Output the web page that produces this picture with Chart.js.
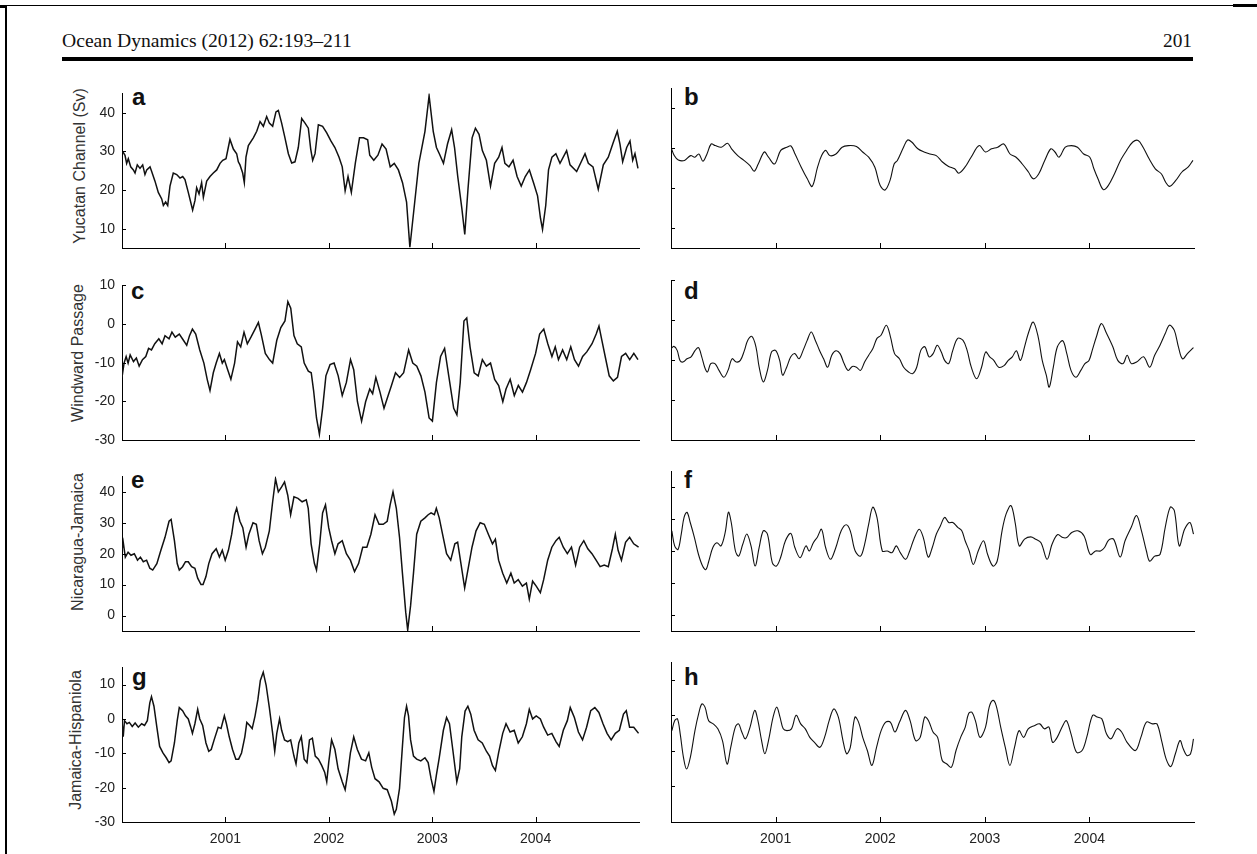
<!DOCTYPE html>
<html><head><meta charset="utf-8">
<script src="https://cdn.jsdelivr.net/npm/chart.js@4.4.0/dist/chart.umd.min.js"></script>
<style>
body{margin:0;width:1257px;height:854px;background:#fff;position:relative;overflow:hidden;font-family:'Liberation Sans',Arial,sans-serif}
.abs{position:absolute}
.blk{position:absolute;background:#000}
.ylab{position:absolute;transform:translate(-50%,-50%) rotate(-90deg);white-space:nowrap;font-size:16px;color:#333;line-height:16px}
.pl{position:absolute;font-weight:bold;font-size:24px;line-height:24px;color:#111}
.hdr{position:absolute;font-family:'Liberation Serif','Times New Roman',serif;font-size:18px;line-height:18px;color:#111;white-space:nowrap}
</style></head><body>
<div class="blk" style="left:5px;top:5px;width:1252px;height:1px"></div>
<div class="blk" style="left:0;top:5px;width:7px;height:3px"></div>
<div class="blk" style="left:1233px;top:4px;width:24px;height:3px"></div>
<div class="blk" style="left:5px;top:5px;width:2px;height:849px"></div>
<div id="hdr" class="hdr" style="left:62px;top:32px;transform-origin:0 0">Ocean Dynamics (2012) 62:193–211</div>
<div id="pg" class="hdr" style="left:1163px;top:32px;transform-origin:0 0">201</div>
<div class="blk" style="left:62px;top:57px;width:1131px;height:4px"></div>

<div class="ylab" style="left:80px;top:166px">Yucatan Channel (Sv)</div>
<div class="ylab" style="left:78px;top:353px">Windward Passage</div>
<div class="ylab" style="left:78px;top:542px">Nicaragua-Jamaica</div>
<div class="ylab" style="left:76px;top:740px">Jamaica-Hispaniola</div>

<div class="pl" style="left:132px;top:85px">a</div>
<div class="pl" style="left:684px;top:85px">b</div>
<div class="pl" style="left:131px;top:279px">c</div>
<div class="pl" style="left:684px;top:279px">d</div>
<div class="pl" style="left:131px;top:468px">e</div>
<div class="pl" style="left:684px;top:468px">f</div>
<div class="pl" style="left:132px;top:665px">g</div>
<div class="pl" style="left:684px;top:665px">h</div>

<script>
// ---- tick values ----
const xTicks = [2001, 2002, 2003, 2004];
const yTicksYucatan = [10, 20, 30, 40];
const yTicksWindward = [-30, -20, -10, 0, 10];
const yTicksNicJam = [0, 10, 20, 30, 40];
const yTicksJamHisp = [-30, -20, -10, 0, 10];

// ---- (a) Yucatan Channel, full ----
const aYears = [2000.006,2000.029,2000.045,2000.061,2000.084,2000.110,2000.126,2000.148,2000.174,2000.200,2000.222,2000.239,2000.271,2000.287,2000.319,2000.351,2000.384,2000.400,2000.422,2000.442,2000.464,2000.496,2000.529,2000.561,2000.587,2000.609,2000.641,2000.664,2000.683,2000.706,2000.722,2000.745,2000.770,2000.787,2000.819,2000.851,2000.883,2000.916,2000.948,2000.974,2001.006,2001.028,2001.044,2001.077,2001.109,2001.125,2001.141,2001.167,2001.183,2001.199,2001.222,2001.270,2001.303,2001.335,2001.367,2001.399,2001.425,2001.457,2001.489,2001.512,2001.544,2001.576,2001.609,2001.641,2001.673,2001.705,2001.738,2001.770,2001.802,2001.825,2001.844,2001.867,2001.899,
2001.940,2001.980,2002.020,2002.059,2002.099,2002.130,2002.158,2002.186,2002.218,2002.257,2002.297,2002.336,2002.376,2002.396,2002.435,2002.475,2002.515,2002.554,2002.594,2002.633,2002.673,2002.713,2002.752,2002.784,2002.831,2002.871,2002.930,2002.970,2003.010,2003.041,2003.069,2003.109,2003.148,2003.188,2003.216,2003.247,2003.287,2003.315,2003.346,2003.386,2003.418,2003.453,2003.485,2003.524,2003.564,2003.604,2003.643,2003.675,2003.703,2003.742,2003.782,2003.821,2003.861,2003.900,2003.940,2003.980,2004.019,2004.047,2004.067,2004.098,2004.125,2004.158,2004.196,2004.236,2004.300,2004.333,2004.397,2004.478,2004.510,2004.555,2004.606,2004.655,2004.703,2004.751,2004.790,2004.816,2004.842,2004.881,2004.913,2004.939,2004.961,2004.990];
const aValues = [30.0,29,26.9,28.1,26,25.2,24.4,26.5,25.6,26.5,24,25.2,26,24.8,22.3,19.4,17.7,16.0,16.9,16,21,24.4,24,23.1,23.5,22.7,19.4,16.9,14.8,17.3,20.6,19,21.9,18.1,22.3,23.5,24.4,25.2,26.9,27.7,28.1,31,33.1,30.6,29.4,27.3,26.5,24.4,21.9,28.5,31.5,33.5,35.2,37.7,36.5,39,37.3,36.5,40.2,40.6,37.3,33.5,29.4,27,27.3,31,38.5,37.3,36,30.6,27.7,29.4,36.9,
36.5,34.8,32.7,31,28.5,26,19.8,23.5,19.4,27,33.5,33.5,33,29,27.7,29,31.9,30.6,26,26.9,25.2,21.9,16.9,5.2,16.9,26.9,35.2,44.4,35.2,31,29.4,26.9,31.9,35.6,31,23.5,15.2,8.5,20.2,33.5,36,34.4,30.2,27.7,21,26.9,28.5,31,26.9,26,27.7,23.5,21,23.5,25.2,21.9,18.5,12.7,9.8,16,25.2,28.5,29.4,26.9,30.2,26.5,24.8,29.4,26.9,26,20.2,26.5,28.5,32.3,35.2,31.9,27.3,31,32.7,27.7,29.4,25.6];

// ---- (b) Yucatan Channel, filtered ----
const bYears = [2000.000,2000.031,2000.070,2000.129,2000.188,2000.227,2000.266,2000.305,2000.344,2000.384,2000.423,2000.481,2000.540,2000.579,2000.638,2000.697,2000.755,2000.795,2000.834,2000.892,2000.932,2000.990,2001.049,2001.108,2001.147,2001.186,2001.245,2001.303,2001.350,2001.401,2001.440,2001.479,2001.518,2001.577,2001.636,2001.695,2001.773,2001.832,2001.890,2001.949,2002.000,2002.047,2002.094,2002.133,2002.164,2002.223,2002.262,2002.301,2002.360,2002.419,2002.477,2002.536,2002.595,2002.654,2002.712,2002.751,2002.810,2002.869,2002.947,2003.006,2003.065,2003.123,2003.182,2003.241,2003.299,2003.358,2003.417,2003.464,2003.515,2003.573,2003.632,2003.671,2003.710,2003.769,2003.828,2003.886,2003.945,2004.004,2004.043,2004.082,2004.133,2004.180,2004.239,2004.297,2004.356,2004.415,2004.466,2004.513,2004.571,2004.630,2004.689,2004.728,2004.767,2004.826,2004.885,2004.943,2004.990];
const bValues = [30.2,28.1,27,26.9,28.1,27.7,28.5,26.7,28.5,31,30.6,30.2,31.2,29.8,28.1,26.9,25.6,24.2,26,29,27.7,26,29.4,30.2,30.5,28.5,25.2,22.3,20.4,25.2,28.1,29.4,28.1,28.5,30.2,30.6,30.4,29,27.7,25.2,20.6,19.5,21.9,26,26.9,30.2,32,31.5,29.8,29,28.5,28.1,26.5,25.4,24.8,23.7,25.2,27.7,30.6,29,29.8,30.2,31,28.5,27.7,26,24,22.3,23.5,26.9,29.8,29,27.7,30.2,30.6,30.2,28.5,27.7,24.8,22.3,19.6,20.6,23.5,26.9,29.4,31.5,31.9,30.2,27.3,24.8,23.5,21.5,20.4,21.9,24,25.2,26.9];

// ---- (c) Windward Passage, full ----
const cYears = [2000.000,2000.020,2000.040,2000.059,2000.079,2000.111,2000.139,2000.166,2000.198,2000.230,
2000.257,2000.285,2000.317,2000.356,2000.388,2000.416,2000.455,2000.483,2000.515,2000.554,
2000.594,2000.626,2000.653,2000.681,2000.713,2000.752,2000.792,2000.824,2000.851,2000.883,
2000.911,2000.942,2000.970,2000.990,2001.022,2001.053,2001.089,2001.117,2001.148,2001.180,
2001.212,2001.247,2001.287,2001.319,2001.346,2001.386,2001.426,2001.457,2001.497,2001.536,
2001.576,2001.604,2001.632,2001.663,2001.695,2001.734,2001.762,2001.802,2001.830,2001.853,
2001.881,2001.909,2001.940,2001.972,2002.012,2002.051,2002.091,2002.130,2002.170,2002.210,
2002.241,2002.277,2002.317,2002.356,2002.396,2002.424,2002.455,2002.495,2002.534,2002.574,
2002.606,2002.645,2002.685,2002.724,2002.772,2002.812,2002.851,2002.891,2002.930,2002.970,
2003.002,2003.041,2003.081,2003.120,2003.160,2003.208,2003.239,2003.271,2003.307,2003.334,
2003.366,2003.406,2003.445,2003.485,2003.524,2003.564,2003.604,2003.643,2003.683,2003.714,
2003.754,2003.794,2003.833,2003.873,2003.912,2003.952,2004.000,2004.039,2004.079,2004.118,
2004.158,2004.190,2004.221,2004.261,2004.301,2004.340,2004.376,2004.415,2004.455,2004.495,
2004.546,2004.586,2004.613,2004.641,2004.673,2004.712,2004.752,2004.792,2004.831,2004.871,
2004.910,2004.950,2004.990];
const cValues = [-13.8,-10.1,-8.4,-10.1,-8,-9.7,-8.8,-10.9,-9.2,-8.4,
-6.3,-6.7,-5.1,-3.8,-5.1,-3,-3.8,-2.1,-3.4,-2.6,
-4.2,-5.5,-3,-1.3,-2.6,-6.7,-10.1,-14.3,-17.2,-12.6,
-10.1,-7.6,-10.1,-9.2,-11.8,-14.3,-10.1,-4.6,-5.9,-2.1,
-5.1,-3.4,-1.3,0.4,-2.6,-7.6,-9.2,-10.1,-4.2,-0.9,
0.8,5.8,4.1,-3,-5.1,-5.9,-10.1,-12.2,-12.6,-17.2,
-24.3,-28.5,-21.8,-13.4,-10.5,-10.1,-13.4,-18.5,-15.1,-9.2,
-11.8,-20.1,-25.1,-20.1,-16.8,-18,-13.8,-17.6,-21.8,-18.5,
-15.9,-12.6,-13.8,-12.6,-6.7,-10.1,-10.9,-13.4,-17.6,-24.3,
-25.1,-15.1,-8.4,-6.3,-13.4,-21.8,-23.5,-15.1,0.8,1.6,
-5.9,-12.6,-13.4,-9.2,-10.9,-10.1,-14.3,-15.9,-20.1,-16.8,
-14.3,-18.5,-15.9,-17.6,-15.1,-11.8,-7.6,-2.6,-1.3,-5.1,
-8.4,-5.9,-9.2,-6.7,-9.2,-5.9,-9.2,-10.9,-8.4,-7.2,
-5.1,-2.6,-0.5,-4.2,-8.4,-13.4,-14.7,-13.8,-8.4,-7.6,
-9.2,-7.6,-9.2];

// ---- (d) Windward Passage, filtered ----
const dYears = [2000.000,2000.027,2000.059,2000.086,2000.114,2000.153,2000.192,2000.231,2000.263,2000.294,
2000.322,2000.349,2000.380,2000.420,2000.459,2000.506,2000.545,2000.584,2000.624,2000.663,
2000.702,2000.733,2000.773,2000.812,2000.843,2000.882,2000.922,2000.961,2001.000,2001.039,
2001.067,2001.106,2001.145,2001.184,2001.224,2001.263,2001.302,2001.341,2001.380,2001.420,
2001.459,2001.498,2001.537,2001.576,2001.616,2001.655,2001.694,2001.733,2001.773,2001.812,
2001.851,2001.890,2001.929,2001.969,2002.008,2002.059,2002.098,2002.137,2002.184,2002.224,
2002.271,2002.310,2002.349,2002.388,2002.427,2002.467,2002.506,2002.545,2002.584,2002.616,
2002.655,2002.694,2002.741,2002.792,2002.831,2002.871,2002.922,2002.969,2003.008,2003.047,
2003.086,2003.133,2003.184,2003.224,2003.263,2003.302,2003.341,2003.380,2003.420,2003.463,
2003.510,2003.549,2003.588,2003.616,2003.655,2003.694,2003.745,2003.784,2003.824,2003.871,
2003.918,2003.957,2003.996,2004.027,2004.067,2004.114,2004.165,2004.224,2004.271,2004.322,
2004.361,2004.400,2004.451,2004.518,2004.576,2004.624,2004.675,2004.725,2004.765,2004.812,
2004.851,2004.890,2004.937,2004.995];
const dValues = [-7.2,-6.6,-7.6,-10.1,-10.5,-9.7,-9.2,-7.6,-6.9,-9.2,
-11.8,-13,-10.9,-10.9,-12.6,-14.3,-12.6,-9.7,-10.5,-10.1,
-7.6,-5.1,-4.1,-6.7,-11.8,-15.5,-12.6,-8,-7.6,-10.1,
-13.8,-11.8,-9.2,-8.4,-9.7,-7.6,-5.1,-3,-5.1,-7.6,
-9.7,-11.8,-8.8,-7.7,-8.4,-10.9,-12.6,-11.6,-11.8,-12.6,
-10.5,-8.8,-7.2,-4.6,-3.8,-1.3,-4.2,-8.4,-9.7,-11.8,
-13,-13.4,-11.8,-7.6,-6.7,-9.2,-8.4,-6.3,-8,-10.1,
-10.9,-7.6,-4.6,-5.1,-7.6,-11.8,-14.7,-11.8,-8,-9.2,
-10.1,-11.8,-11.4,-10.1,-9.2,-7.7,-10.1,-6.7,-3,-0.5,
-4.2,-10.1,-13.8,-16.8,-11.8,-6.7,-5.2,-8.4,-12.6,-14.3,
-12.6,-10.9,-10.1,-7.6,-4.2,-0.9,-3.4,-6.7,-10.1,-10.9,
-8.8,-10.9,-10.5,-9.2,-11.8,-8.8,-6.3,-3.4,-1.3,-2.6,
-6.7,-9.7,-8.4,-6.9];

// ---- (e) Nicaragua-Jamaica, full ----
const eYears = [2000.000,2000.012,2000.032,2000.059,2000.087,2000.119,2000.150,2000.178,2000.206,2000.238,
2000.269,2000.297,2000.337,2000.376,2000.416,2000.455,2000.475,2000.507,2000.534,2000.554,
2000.586,2000.614,2000.641,2000.673,2000.705,2000.732,2000.764,2000.784,2000.812,2000.839,
2000.871,2000.911,2000.942,2000.970,2000.998,2001.029,2001.061,2001.089,2001.109,2001.140,
2001.168,2001.200,2001.227,2001.267,2001.299,2001.326,2001.358,2001.386,2001.425,2001.457,
2001.485,2001.512,2001.544,2001.572,2001.603,2001.631,2001.663,2001.702,2001.742,2001.782,
2001.801,2001.829,2001.861,2001.881,2001.912,2001.940,2001.968,2001.999,2002.027,2002.059,
2002.090,2002.130,2002.170,2002.209,2002.249,2002.288,2002.328,2002.368,2002.407,2002.447,
2002.486,2002.526,2002.565,2002.593,2002.621,2002.653,2002.684,2002.712,2002.744,2002.763,
2002.791,2002.819,2002.850,2002.890,2002.930,2002.961,2002.989,2003.021,2003.040,2003.068,
2003.100,2003.139,2003.179,2003.219,2003.246,2003.278,2003.314,2003.345,2003.385,2003.424,
2003.464,2003.504,2003.543,2003.583,2003.611,2003.642,2003.682,2003.721,2003.761,2003.793,
2003.832,2003.872,2003.911,2003.939,2003.971,2004.006,2004.046,2004.078,2004.117,2004.157,
2004.197,2004.228,2004.268,2004.307,2004.347,2004.387,2004.426,2004.466,2004.505,2004.545,
2004.585,2004.624,2004.664,2004.703,2004.743,2004.771,2004.798,2004.830,2004.870,2004.909,
2004.949,2004.996];
const eValues = [21.1,23.7,18.9,20.5,19.5,20,17.9,18.9,17.4,17.9,
15.3,14.7,16.8,21.1,25.3,30.5,31.1,24.2,16.8,14.7,
15.8,17.4,17.4,15.8,15.3,12.1,10,10,12.6,16.8,
20,21.6,18.9,21.1,17.9,21.1,26.3,32.6,34.7,30.5,
28.4,22.1,26.3,30,29.5,24.2,20,22.1,27.4,36.8,
44.2,40,41.6,43.2,38.9,32.6,38.4,37.9,36.8,37.4,
34.7,23.2,16.8,14.7,23.2,33.2,35.8,28.4,24.2,20,
23.2,24.2,20,17.9,14.2,16.8,22.1,22.1,26.3,32.6,
29.5,29.5,30.5,35.8,40,34.7,25.3,13.7,1.1,-4.7,
3.2,13.7,26.3,30.5,31.6,32.6,33.2,32.6,34.7,31.6,
26.3,20,17.9,23.2,23.7,16.8,8.9,14.7,22.1,27.4,
30,29.5,26.3,23.2,24.7,17.9,13.7,10.5,13.7,10.5,
11.6,9.5,10.5,5.3,11.1,9.5,7.4,11.6,17.9,22.1,
24.2,25.3,22.1,20,22.1,16.3,22.1,24.2,21.6,20,
17.9,15.8,16.3,15.8,21.6,26.3,21.1,17.9,23.7,25.3,
23.2,22.1];

// ---- (f) Nicaragua-Jamaica, filtered ----
const fYears = [2000.008,2000.035,2000.067,2000.098,2000.125,2000.153,2000.184,2000.224,2000.263,2000.302,
2000.333,2000.361,2000.400,2000.439,2000.478,2000.518,2000.549,2000.576,2000.616,2000.647,
2000.686,2000.725,2000.765,2000.804,2000.843,2000.882,2000.922,2000.969,2001.008,2001.047,
2001.094,2001.145,2001.184,2001.235,2001.290,2001.322,2001.361,2001.400,2001.439,2001.478,
2001.525,2001.576,2001.627,2001.675,2001.714,2001.761,2001.812,2001.851,2001.890,2001.929,
2001.969,2002.020,2002.067,2002.114,2002.153,2002.192,2002.243,2002.282,2002.322,2002.373,
2002.412,2002.459,2002.498,2002.537,2002.576,2002.616,2002.655,2002.694,2002.741,2002.780,
2002.812,2002.851,2002.890,2002.937,2002.988,2003.027,2003.078,2003.118,2003.165,2003.204,
2003.251,2003.290,2003.329,2003.380,2003.439,2003.486,2003.537,2003.596,2003.643,2003.694,
2003.745,2003.784,2003.831,2003.890,2003.949,2004.008,2004.059,2004.106,2004.145,2004.184,
2004.231,2004.294,2004.341,2004.400,2004.451,2004.498,2004.545,2004.576,2004.624,2004.675,
2004.725,2004.773,2004.812,2004.859,2004.910,2004.961,2004.995];
const fValues = [26.3,21.6,20.5,25.3,30.5,32.1,28.9,24.2,18.9,15.3,
14.2,16.8,21.1,22.6,21.6,25.8,32.1,28.9,20,18.4,
22.1,25.3,21.6,15.3,21.1,26.3,25.3,16.3,15.3,17.9,
23.2,25.5,21.1,17.9,21.6,20,22.6,24.4,26.8,21.1,
17.4,21.1,26.3,28.2,26.3,20,18.4,22.1,28.4,33.7,
30.5,20,20,19.5,21.6,19.5,17.4,20,23.7,26.8,
24.2,18.1,21.1,25.3,27.9,30.5,28.9,28.9,27.4,26.3,
23.2,20,15.8,20,23.2,18.9,15.3,16.8,26.3,31.6,
34.2,28.9,21.6,23.7,24.4,23.7,22.6,17.4,22.1,25.1,
24.2,24.2,25.8,26.3,24.7,18.9,20,20,21.1,23.4,
23.7,18.1,23.2,27.4,31.1,26.3,20,16.8,18.4,18.9,
27.4,33.7,32.6,21.6,26.8,28.9,25.3];

// ---- (g) Jamaica-Hispaniola, full ----
const gYears = [2000.000,2000.012,2000.024,2000.048,2000.071,2000.099,2000.127,2000.158,2000.190,2000.218,
2000.245,2000.269,2000.285,2000.309,2000.337,2000.364,2000.396,2000.428,2000.455,2000.475,
2000.507,2000.534,2000.554,2000.586,2000.614,2000.641,2000.665,2000.681,2000.705,2000.732,
2000.752,2000.780,2000.812,2000.839,2000.863,2000.891,2000.930,2000.958,2000.990,2001.010,
2001.037,2001.069,2001.101,2001.128,2001.156,2001.188,2001.207,2001.235,2001.259,2001.287,
2001.314,2001.338,2001.366,2001.394,2001.425,2001.457,2001.477,2001.497,2001.524,2001.544,
2001.572,2001.603,2001.631,2001.663,2001.683,2001.710,2001.734,2001.762,2001.789,2001.813,
2001.841,2001.869,2001.900,2001.932,2001.960,2001.980,2001.999,2002.027,2002.059,2002.090,
2002.130,2002.158,2002.185,2002.209,2002.241,2002.276,2002.316,2002.356,2002.387,2002.415,
2002.447,2002.486,2002.526,2002.565,2002.605,2002.633,2002.653,2002.684,2002.712,2002.732,
2002.752,2002.771,2002.791,2002.819,2002.850,2002.890,2002.930,2002.961,2002.989,2003.017,
2003.040,2003.068,2003.108,2003.139,2003.167,2003.199,2003.238,2003.266,2003.286,2003.318,
2003.345,2003.373,2003.405,2003.444,2003.484,2003.524,2003.555,2003.583,2003.611,2003.642,
2003.682,2003.714,2003.753,2003.793,2003.832,2003.872,2003.911,2003.939,2003.971,2004.006,
2004.046,2004.078,2004.117,2004.157,2004.197,2004.228,2004.268,2004.307,2004.335,2004.375,
2004.414,2004.454,2004.493,2004.533,2004.573,2004.612,2004.652,2004.691,2004.731,2004.771,
2004.810,2004.850,2004.877,2004.909,2004.949,2004.996];
const gValues = [-0.5,-5.2,-0.5,-1.4,-1,-2.2,-1.2,-2.4,-1.4,-1.9,
-0.5,4.7,6.5,3.7,-2.4,-8,-9.9,-11.3,-12.7,-12.2,
-7,-0.5,3.3,2.4,0.9,0,-2.4,-4.2,-1.4,2.8,
0,-1.9,-7,-9.4,-8.9,-6.1,-2.4,-2.8,0.9,-1.4,
-5.2,-8.9,-11.7,-11.7,-9.9,-5.2,-1,-1.9,-2.8,0.9,
5.6,11.2,13.6,9.8,3.3,-4.2,-9.4,-4.2,0,-3.3,
-6.1,-6.6,-6.1,-10.8,-13.1,-7,-5.2,-11.7,-12.7,-6.1,
-5.6,-10.8,-11.7,-13.6,-15.5,-18.3,-12.7,-6.1,-8.9,-14.5,
-18.3,-20.6,-15.5,-9.9,-5.2,-8.9,-11.7,-12.2,-9.9,-14.1,
-17.4,-18.3,-20.2,-20.6,-23.9,-27.7,-26.3,-20.2,-8,0.4,
3.7,0.9,-6.1,-10.8,-11.7,-12.2,-11.3,-12.7,-17.4,-21.1,
-16.4,-11.3,-3.3,0.4,-1.4,-8.9,-18.3,-14.5,-5.2,2.3,
3.7,1.4,-3.3,-6.1,-7,-9.4,-10.8,-13.6,-15,-9.9,
-4.2,-1.4,-3.8,-3.3,-7,-5.2,-1.4,2.8,0,0.9,
0,-2.4,-4.7,-4.2,-6.6,-8,-3.3,-0.5,3.3,0.4,
-3.8,-6.1,-2.4,2.4,3.3,1.9,-1.4,-4.2,-6.1,-4.2,
-3.3,1.4,2.4,-2.4,-2.4,-4.2];

// ---- (h) Jamaica-Hispaniola, filtered ----
const hYears = [2000.009,2000.035,2000.062,2000.088,2000.119,2000.149,2000.185,2000.229,2000.264,2000.295,
2000.325,2000.360,2000.404,2000.448,2000.492,2000.536,2000.571,2000.615,2000.646,2000.677,
2000.712,2000.756,2000.800,2000.831,2000.866,2000.897,2000.932,2000.976,2001.011,2001.042,
2001.073,2001.108,2001.152,2001.196,2001.240,2001.284,2001.327,2001.371,2001.424,2001.468,
2001.512,2001.556,2001.600,2001.644,2001.679,2001.714,2001.758,2001.793,2001.833,2001.877,
2001.921,2001.965,2002.009,2002.053,2002.097,2002.141,2002.185,2002.242,2002.286,2002.338,
2002.382,2002.426,2002.462,2002.505,2002.549,2002.593,2002.637,2002.681,2002.725,2002.769,
2002.813,2002.844,2002.875,2002.910,2002.954,2003.007,2003.042,2003.077,2003.108,2003.152,
2003.196,2003.240,2003.284,2003.327,2003.371,2003.415,2003.473,2003.525,2003.569,2003.613,
2003.648,2003.692,2003.745,2003.780,2003.824,2003.877,2003.930,2003.974,2004.031,2004.075,
2004.119,2004.163,2004.207,2004.264,2004.308,2004.360,2004.440,2004.492,2004.545,2004.602,
2004.646,2004.690,2004.734,2004.778,2004.822,2004.866,2004.897,2004.932,2004.967,2004.995];
const hValues = [-4.3,-1.5,-1,-5.2,-11.8,-15.1,-11.8,-4.3,0.4,3.2,
2.3,-1.5,-2.4,-3.8,-7.1,-13.7,-9,-3.3,-2.4,-4.7,
-6.6,-3.3,1.4,-1.5,-7.1,-10.8,-7.1,-0.5,2.3,-0.5,
-3.8,-4.3,-3.8,0,-2.4,-3.8,-6.2,-7.6,-9,-6.2,
-1.5,1.8,-0.5,-7.1,-10.8,-9,-0.5,-1.9,-6.2,-9.9,
-14.1,-9,-4.3,-1.9,-1.9,-4.7,-1.9,1.4,-1.5,-7.1,
-6.2,-0.5,-1.5,-4.7,-6.2,-12.7,-13.7,-14.6,-9.9,-6.2,
-3.3,0.4,0.9,-1.5,-6.2,-3.3,2.3,4.2,2.8,-3.3,
-9,-14.1,-9,-4.3,-6.2,-3.8,-2.9,-2.4,-3.8,-3.3,
-7.6,-6.2,-2.9,-1.5,-5.2,-10.4,-9.9,-6.2,0,-0.5,
-1,-5.2,-6.6,-3.8,-4.7,-7.6,-9.9,-6.2,-1.9,-2.4,
-2.4,-7.1,-12.3,-14.4,-10.8,-7.1,-9.4,-11.3,-10.8,-6.6];

// ---- layout ----
const PADL = 60, PADT = 10, PADR = 10, XH = 30;
const inwardTicks = {
  id: 'inwardTicks',
  afterDraw(chart) {
    const {ctx, chartArea: a, scales: {x, y}} = chart;
    ctx.save();
    ctx.strokeStyle = '#000';
    ctx.lineWidth = 1;
    ctx.beginPath();
    x.ticks.forEach(t => {
      const px = Math.round(x.getPixelForValue(t.value)) + 0.5;
      ctx.moveTo(px, a.bottom); ctx.lineTo(px, a.bottom - 5);
    });
    y.ticks.forEach(t => {
      const py = Math.round(y.getPixelForValue(t.value)) + 0.5;
      ctx.moveTo(a.left, py); ctx.lineTo(a.left + 4, py);
    });
    ctx.stroke();
    ctx.restore();
  }
};

function panel(left, top, w, h, years, values, yMin, yMax, yTicks, showY, showX, lw, tension) {
  const div = document.createElement('div');
  div.className = 'abs';
  div.style.left = (left - PADL) + 'px';
  div.style.top = (top - PADT) + 'px';
  const cw = w + PADL + PADR, ch = h + PADT + XH;
  div.style.width = cw + 'px'; div.style.height = ch + 'px';
  const c = document.createElement('canvas');
  c.width = cw; c.height = ch;
  c.style.width = cw + 'px'; c.style.height = ch + 'px';
  div.appendChild(c);
  document.body.appendChild(div);
  new Chart(c, {
    type: 'line',
    data: { datasets: [{
      data: years.map((t, i) => ({x: t, y: values[i]})),
      borderColor: '#111', borderWidth: lw, pointRadius: 0, tension: tension, fill: false
    }]},
    options: {
      responsive: false, animation: false, devicePixelRatio: 1,
      layout: { padding: { top: PADT, right: PADR, left: 0, bottom: 0 } },
      plugins: { legend: { display: false }, tooltip: { enabled: false } },
      scales: {
        x: {
          type: 'linear', min: 2000, max: 2005,
          afterBuildTicks: s => { s.ticks = xTicks.map(v => ({value: v})); },
          afterFit: s => { s.height = XH; },
          grid: { display: false, drawTicks: false },
          border: { display: true, color: '#000', width: 1 },
          ticks: { display: showX, padding: 9, color: '#222', maxRotation: 0, autoSkip: false,
                   font: { family: "'Liberation Sans', Arial, sans-serif", size: 14 },
                   callback: v => String(v) }
        },
        y: {
          type: 'linear', min: yMin, max: yMax,
          afterBuildTicks: s => { s.ticks = yTicks.map(v => ({value: v})); },
          afterFit: s => { s.width = PADL; },
          grid: { display: false, drawTicks: false },
          border: { display: true, color: '#000', width: 1 },
          ticks: { display: showY, padding: 7, color: '#222', autoSkip: false,
                   font: { family: "'Liberation Sans', Arial, sans-serif", size: 14 },
                   callback: v => String(v) }
        }
      }
    },
    plugins: [inwardTicks]
  });
}

const LX = 122, LW = 517, RX = 671, RW = 523, H = 160;
const rows = [88, 280, 471, 662];
panel(LX, rows[0], LW, H, aYears, aValues, 5, 45, yTicksYucatan, true, false, 1.5, 0);
panel(RX, rows[0], RW, H, bYears, bValues, 5, 45, yTicksYucatan, false, false, 1.1, 0.35);
panel(LX, rows[1], LW, H, cYears, cValues, -30, 10, yTicksWindward, true, false, 1.5, 0);
panel(RX, rows[1], RW, H, dYears, dValues, -30, 10, yTicksWindward, false, false, 1.1, 0.35);
panel(LX, rows[2], LW, H, eYears, eValues, -5, 45, yTicksNicJam, true, false, 1.5, 0);
panel(RX, rows[2], RW, H, fYears, fValues, -5, 45, yTicksNicJam, false, false, 1.1, 0.35);
panel(LX, rows[3], LW, H, gYears, gValues, -30, 15, yTicksJamHisp, true, true, 1.5, 0);
panel(RX, rows[3], RW, H, hYears, hValues, -30, 15, yTicksJamHisp, false, true, 1.1, 0.35);

// fit header width to reference
const hdr = document.getElementById('hdr');
hdr.style.transform = 'scaleX(' + (290 / hdr.offsetWidth) + ')';
const pg = document.getElementById('pg');
pg.style.transform = 'scaleX(' + (29 / pg.offsetWidth) + ')';
</script>
</body></html>
